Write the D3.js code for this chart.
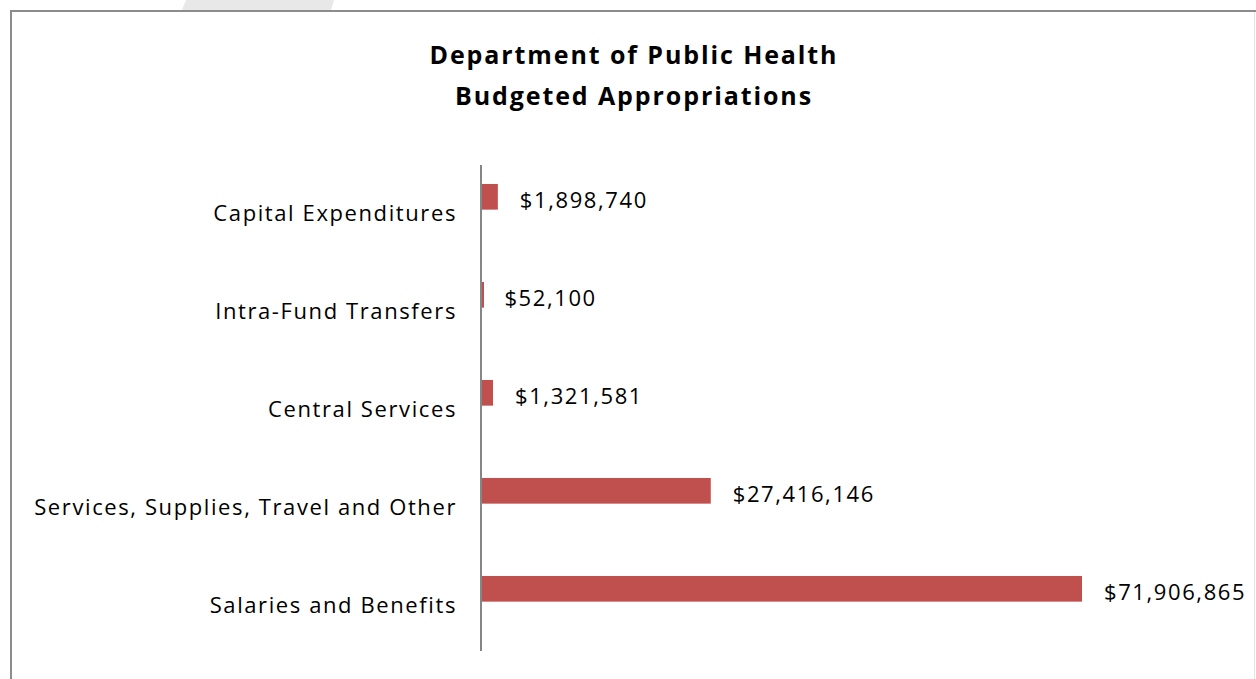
<!DOCTYPE html>
<html>
<head>
<meta charset="utf-8">
<script src="https://cdn.jsdelivr.net/npm/d3@7"></script>
<style>
  body { margin: 0; background: #fff; }
  text { font-family: "Open Sans", Lato, sans-serif; fill: #000; }
</style>
</head>
<body>
<div id="chart"></div>
<script>
/*
DATA
*/
const categories = [
  "Capital Expenditures",
  "Intra-Fund Transfers",
  "Central Services",
  "Services, Supplies, Travel and Other",
  "Salaries and Benefits"
];
const amounts = [1898740, 52100, 1321581, 27416146, 71906865];
const titleLines = ["Department of Public Health", "Budgeted Appropriations"];

/*
SET UP
*/
const W = 1256, H = 679;
const plot = { left: 482, right: 1082, top: 165, bottom: 651 };

const svg = d3.select("#chart").append("svg")
  .attr("width", W)
  .attr("height", H);

// faint shape at the top edge and the frame
svg.append("path")
  .attr("d", "M186,0 L334,0 L331,10 L182,10 Z")
  .attr("fill", "#e8e8e8");
svg.append("line")
  .attr("x1", 10).attr("x2", W).attr("y1", 11).attr("y2", 11)
  .attr("stroke", "#8c8c8c").attr("stroke-width", 2);
svg.append("line")
  .attr("x1", 11).attr("x2", 11).attr("y1", 10).attr("y2", H)
  .attr("stroke", "#8c8c8c").attr("stroke-width", 2);
svg.append("line")
  .attr("x1", 1254.5).attr("x2", 1254.5).attr("y1", 12).attr("y2", H)
  .attr("stroke", "#e4e4e4").attr("stroke-width", 1);

/*
TITLE
*/
svg.append("g").selectAll("text")
  .data(titleLines)
  .join("text")
  .attr("x", 634)
  .attr("y", (d, i) => 64 + i * 41)
  .attr("text-anchor", "middle")
  .style("font-size", "25px")
  .style("font-weight", "bold")
  .style("letter-spacing", "1.9px")
  .text(d => d);

/*
SCALES
*/
const x = d3.scaleLinear()
  .domain([0, d3.max(amounts)])
  .range([plot.left, plot.right]);

// bands run a little past the drawn axis line, like the original
const y = d3.scaleBand()
  .domain(categories)
  .range([168, 658]);

const barH = y.bandwidth() * 0.262;
const barOff = y.bandwidth() * 0.163;

/*
AXIS (drawn first so the thin bars sit on top of it)
*/
const yAxis = svg.append("g")
  .attr("transform", `translate(${plot.left - 1},0)`)
  .call(d3.axisLeft(y).tickSize(0).tickPadding(24));

yAxis.select(".domain")
  .attr("d", `M0,${plot.top}V${plot.bottom}`)
  .attr("stroke", "#868686")
  .attr("stroke-width", 2);
yAxis.selectAll(".tick text")
  .attr("dy", "0.18em")
  .style("font-size", "22px")
  .style("letter-spacing", "1.6px")
  .style("font-family", "'Open Sans', Lato, sans-serif")
  .attr("fill", "#000");

/*
BARS
*/
const rows = categories.map((c, i) => ({ name: c, value: amounts[i] }));

svg.append("g").selectAll("rect")
  .data(rows)
  .join("rect")
  .attr("x", x(0))
  .attr("y", d => y(d.name) + barOff)
  .attr("width", d => Math.max(2, x(d.value) - x(0)))
  .attr("height", barH)
  .attr("fill", "#c0504d");

// value labels
const fmt = d3.format("$,");
svg.append("g").selectAll("text")
  .data(rows)
  .join("text")
  .attr("x", d => x(d.value) + 22)
  .attr("y", d => y(d.name) + barOff + barH / 2)
  .attr("dy", "0.5em")
  .style("font-size", "22px")
  .style("letter-spacing", "1.6px")
  .text(d => fmt(d.value));
</script>
</body>
</html>
